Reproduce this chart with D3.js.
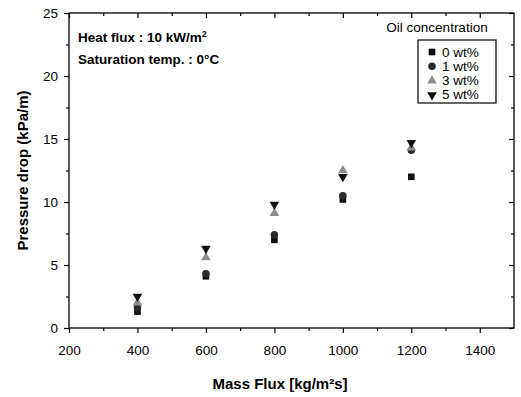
<!DOCTYPE html>
<html>
<head>
<meta charset="utf-8">
<script src="https://cdn.jsdelivr.net/npm/d3@7"></script>
<style>
  html, body { margin: 0; padding: 0; background: #fff; }
  svg { display: block; font-family: "Liberation Sans", Arial, sans-serif; }
</style>
</head>
<body>
<svg id="chart" width="521" height="397"></svg>
<script>
// Mass flux values (kg/m2s)
const massFlux = [400, 600, 800, 1000, 1200];
// Oil concentration series
const seriesNames = ["0 wt%", "1 wt%", "3 wt%", "5 wt%"];
// Pressure drop (kPa/m) per series, one value per mass flux
const dp0 = [1.3, 4.1, 7.0, 10.2, 12.0];
const dp1 = [1.6, 4.3, 7.4, 10.5, 14.1];
const dp3 = [2.0, 5.6, 9.1, 12.5, 14.3];
const dp5 = [2.5, 6.3, 9.8, 12.0, 14.7];
const xTicks = [200, 400, 600, 800, 1000, 1200, 1400];
const yTicks = [0, 5, 10, 15, 20, 25];

const svg = d3.select("#chart");
const plotL = 69, plotR = 514, plotT = 13, plotB = 328;

const x = d3.scaleLinear().domain([200, 1500]).range([plotL, plotR]);
const y = d3.scaleLinear().domain([0, 25]).range([plotB, plotT]);

const series = [
  { name: seriesNames[0], values: dp0, shape: "square", fill: "#111" },
  { name: seriesNames[1], values: dp1, shape: "circle", fill: "#2a2a2a" },
  { name: seriesNames[2], values: dp3, shape: "up", fill: "#8c8c8c" },
  { name: seriesNames[3], values: dp5, shape: "down", fill: "#111" }
];

function symbolPath(shape) {
  if (shape === "square") return d3.symbol(d3.symbolSquare, 44)();
  if (shape === "circle") return d3.symbol(d3.symbolCircle, 44)();
  return d3.symbol(d3.symbolTriangle, 40)();
}
function symbolTransform(shape, cx, cy) {
  return shape === "down" ? `translate(${cx},${cy}) rotate(180)` : `translate(${cx},${cy})`;
}

// Frame
svg.append("rect")
  .attr("x", plotL).attr("y", plotT)
  .attr("width", plotR - plotL).attr("height", plotB - plotT)
  .attr("fill", "none").attr("stroke", "#000").attr("stroke-width", 1.3);

// Axes
const xMinor = d3.range(300, 1500, 200);
const yMinor = d3.range(2.5, 25, 5);

function styleAxis(g) {
  g.select(".domain").remove();
  g.selectAll("line").attr("stroke", "#000").attr("stroke-width", 1.2);
  g.selectAll("text").attr("font-size", 13.5).attr("fill", "#000");
}

svg.append("g").attr("transform", `translate(0,${plotB})`)
  .call(d3.axisBottom(x).tickValues(xTicks).tickSize(5).tickPadding(12).tickFormat(d3.format("d")))
  .call(styleAxis);
svg.append("g").attr("transform", `translate(0,${plotB})`)
  .call(d3.axisBottom(x).tickValues(xMinor).tickSize(3).tickFormat(""))
  .call(styleAxis);
svg.append("g").attr("transform", `translate(${plotL},0)`)
  .call(d3.axisLeft(y).tickValues(yTicks).tickSize(5).tickPadding(6))
  .call(styleAxis);
svg.append("g").attr("transform", `translate(${plotL},0)`)
  .call(d3.axisLeft(y).tickValues(yMinor).tickSize(3).tickFormat(""))
  .call(styleAxis);
// Mirrored ticks on top and right, pointing inward
svg.append("g").attr("transform", `translate(0,${plotT})`)
  .call(d3.axisBottom(x).tickValues(xTicks).tickSize(5).tickFormat(""))
  .call(styleAxis);
svg.append("g").attr("transform", `translate(0,${plotT})`)
  .call(d3.axisBottom(x).tickValues(xMinor).tickSize(3).tickFormat(""))
  .call(styleAxis);
svg.append("g").attr("transform", `translate(${plotR},0)`)
  .call(d3.axisLeft(y).tickValues(yTicks).tickSize(5).tickFormat(""))
  .call(styleAxis);
svg.append("g").attr("transform", `translate(${plotR},0)`)
  .call(d3.axisLeft(y).tickValues(yMinor).tickSize(3).tickFormat(""))
  .call(styleAxis);

// Axis titles
svg.append("text")
  .attr("x", 280).attr("y", 389)
  .attr("text-anchor", "middle").attr("font-size", 15).attr("font-weight", "bold")
  .text("Mass Flux [kg/m²s]");
svg.append("text")
  .attr("transform", `translate(28,${(plotT + plotB) / 2}) rotate(-90)`)
  .attr("text-anchor", "middle").attr("font-size", 15).attr("font-weight", "bold")
  .text("Pressure drop (kPa/m)");

// Condition notes
const note = svg.append("g").attr("font-size", 13.5).attr("font-weight", "bold");
const n1 = note.append("text").attr("x", 78).attr("y", 42);
n1.append("tspan").text("Heat flux : 10 kW/m");
n1.append("tspan").attr("dy", -5).attr("font-size", 9).text("2");
note.append("text").attr("x", 78).attr("y", 64).text("Saturation temp. : 0°C");

// Data points
series.forEach(s => {
  svg.append("g").selectAll("path")
    .data(massFlux.map((m, i) => ({ m, v: s.values[i] })))
    .join("path")
    .attr("d", symbolPath(s.shape))
    .attr("transform", d => symbolTransform(s.shape, x(d.m), y(d.v)))
    .attr("fill", s.fill);
});

// Legend
svg.append("text")
  .attr("x", 437).attr("y", 32)
  .attr("text-anchor", "middle").attr("font-size", 13.5)
  .text("Oil concentration");
svg.append("rect")
  .attr("x", 418).attr("y", 40).attr("width", 78).attr("height", 63)
  .attr("fill", "#fff").attr("stroke", "#000").attr("stroke-width", 1.2);
const leg = svg.append("g");
series.forEach((s, i) => {
  const cy = 52 + i * 14.3;
  leg.append("path")
    .attr("d", symbolPath(s.shape))
    .attr("transform", symbolTransform(s.shape, 432, cy))
    .attr("fill", s.fill);
  leg.append("text")
    .attr("x", 442).attr("y", cy + 4.5)
    .attr("font-size", 13.5)
    .text(s.name);
});
</script>
</body>
</html>
